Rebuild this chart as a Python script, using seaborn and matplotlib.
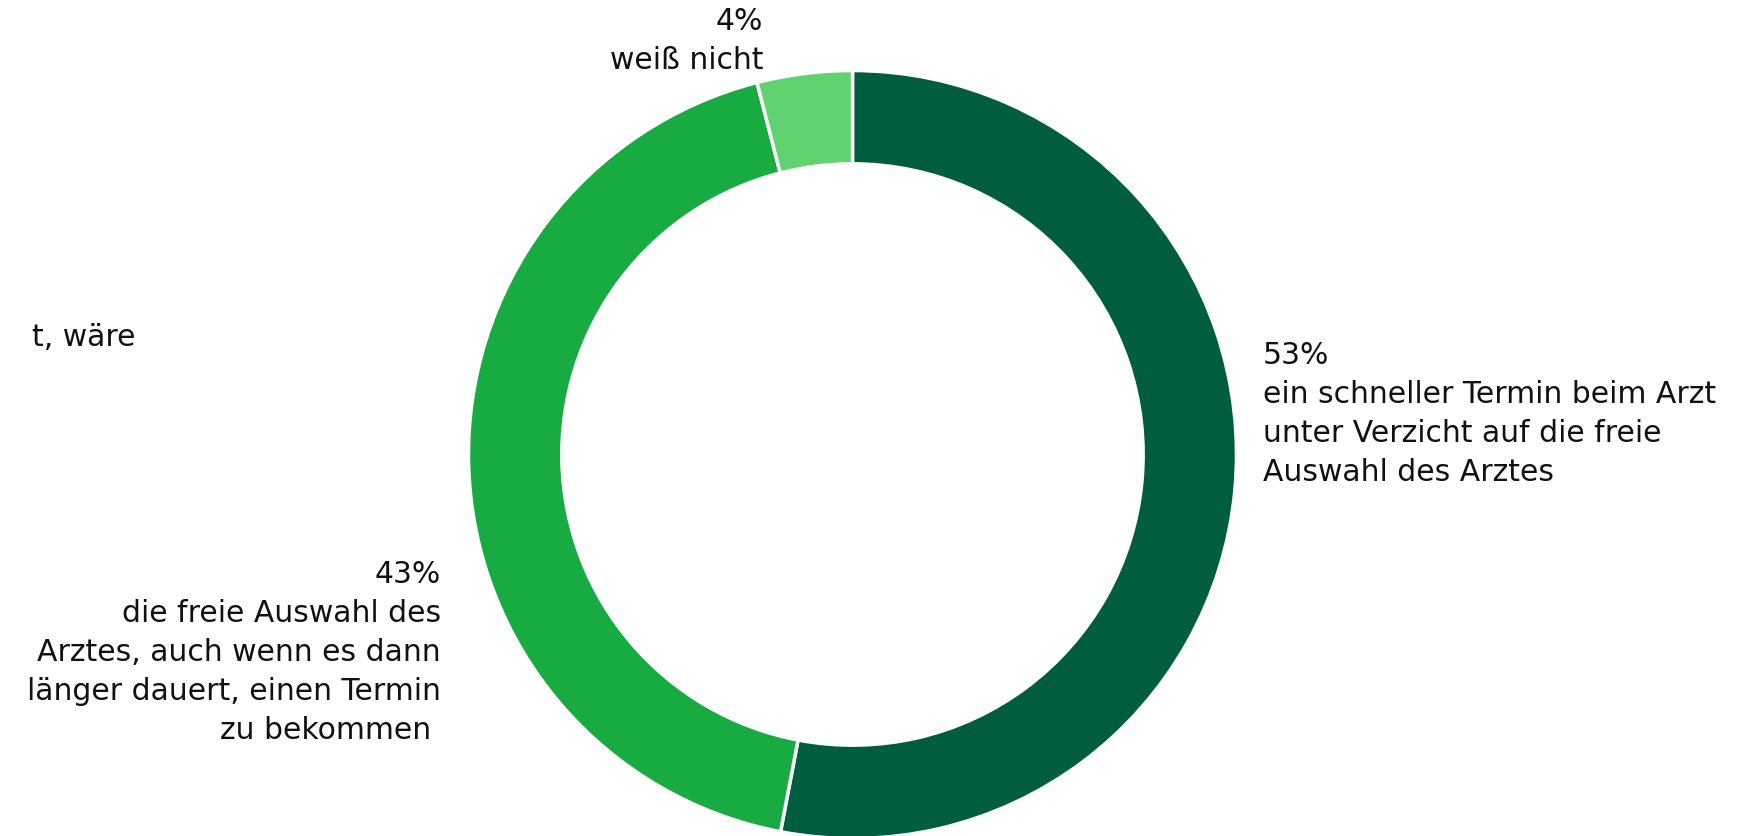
import matplotlib
matplotlib.use("Agg")
import matplotlib.pyplot as plt
import seaborn as sns

# antwort-anteile (in %), kloksgewijs vanaf 12 uur
antwoorden = ["schneller Termin", "freie Auswahl", "weiß nicht"]
anteile = [53, 43, 4]
kleuren = ["#005e3f", "#17ab41", "#60d270"]

labels_pct = ["53%", "43%", "4%"]
labels_txt = [
    "ein schneller Termin beim Arzt\nunter Verzicht auf die freie\nAuswahl des Arztes",
    "die freie Auswahl des\nArztes, auch wenn es dann\nlänger dauert, einen Termin\nzu bekommen ",
    "weiß nicht",
]
titel_rest = "t, wäre"

sns.set_theme(style="white")
plt.rcParams["font.family"] = ["DejaVu Sans"]

W, H = 1737, 836
fig = plt.figure(figsize=(W / 100, H / 100), dpi=100)

# donut: middelpunt (852, 454) px, straal 384 px
cx, cy, r = 852.5, 454.5, 384
ax = fig.add_axes([(cx - r) / W, (H - cy - r) / H, 2 * r / W, 2 * r / H])
ax.pie(anteile, colors=kleuren, startangle=90, counterclock=False, radius=1,
       wedgeprops=dict(width=0.243, edgecolor="white", linewidth=2.5))
ax.set_xlim(-1, 1)
ax.set_ylim(-1, 1)
ax.set_aspect("equal")
ax.axis("off")

fs = 21.5
ls = 1.44
txt_kw = dict(fontsize=fs, color="#111111", linespacing=ls, va="top")

def px(x, y):
    return x / W, 1 - y / H

# 53% rechts
fig.text(*px(1263, 341), labels_pct[0] + "\n" + labels_txt[0], ha="left", **txt_kw)
# 43% links
fig.text(*px(441, 560), labels_pct[1] + "\n" + labels_txt[1], ha="right", multialignment="right", **txt_kw)
# 4% boven
fig.text(*px(763, 7), labels_pct[2] + "\n" + labels_txt[2], ha="right", multialignment="right", **txt_kw)
# afgesneden titelstuk links
fig.text(*px(135, 338), titel_rest, ha="right", va="center", fontsize=fs, color="#111111")

fig.savefig("out.png", dpi=100, facecolor="white")
